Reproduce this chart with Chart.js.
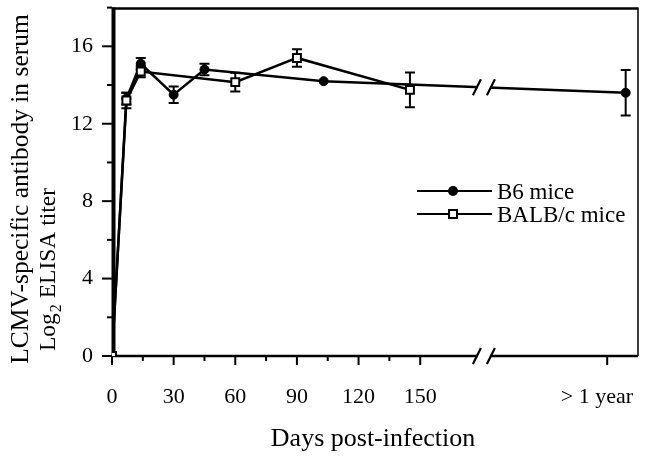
<!DOCTYPE html>
<html><head><meta charset="utf-8">
<script src="https://cdn.jsdelivr.net/npm/chart.js@4.4.0/dist/chart.umd.min.js"></script>
<style>html,body{margin:0;padding:0;background:#fff}#wrap{width:646px;height:458px;position:relative}</style>
</head><body><div id="wrap"><canvas id="c" width="646" height="458"></canvas></div>
<script>
// ---- data ----
const b6Days   = [0, 7, 14, 30, 45, 103, 250];
const b6Titer  = [0, 13.3, 15.1, 13.5, 14.8, 14.2, 13.6];
const b6Err    = [0, 0.3, 0.3, 0.43, 0.3, 0, 1.18];
const balbDays  = [0, 7, 14, 60, 90, 145];
const balbTiter = [0, 13.2, 14.7, 14.15, 15.4, 13.75];
const balbErr   = [0, 0.4, 0.3, 0.48, 0.45, 0.9];
// tick labels (the "> 1 year" label sits a little left of its tick mark in the original)
const xTickValues = [0, 15, 30, 45, 60, 75, 90, 105, 120, 135, 150, 236];
const xTickLabels = ['0', '', '30', '', '60', '', '90', '', '120', '', '150', '> 1 year'];
const xMarkValues = [0, 15, 30, 45, 60, 75, 90, 105, 120, 135, 150, 241];
const xMarkMajor  = [1, 0, 1, 0, 1, 0, 1, 0, 1, 0, 1, 1];
const yTickValues = [0, 2, 4, 6, 8, 10, 12, 14, 16, 18];
const yTickLabels = ['0', '', '4', '', '8', '', '12', '', '16', ''];
const xBreakAt = 181;
const seriesNames = ['B6 mice', 'BALB/c mice'];
const xTitle = 'Days post-infection';
const yTitle1 = 'LCMV-specific antibody in serum';

const FONT = '"Liberation Serif", "Times New Roman", serif';
const toPts = (xs, ys) => xs.map((x, i) => ({x: x, y: ys[i]}));

function drawSquare(ctx, x, y, s) {
  ctx.save(); ctx.fillStyle = '#fff'; ctx.strokeStyle = '#000'; ctx.lineWidth = 2;
  ctx.fillRect(x - s/2, y - s/2, s, s); ctx.strokeRect(x - s/2, y - s/2, s, s); ctx.restore();
}
function drawDot(ctx, x, y, r) {
  ctx.save(); ctx.fillStyle = '#000'; ctx.beginPath(); ctx.arc(x, y, r, 0, Math.PI*2); ctx.fill(); ctx.restore();
}
function drawBreak(ctx, x, y) {
  ctx.save();
  ctx.fillStyle = '#fff';
  ctx.fillRect(x - 6, y - 3, 12, 6);
  ctx.strokeStyle = '#000'; ctx.lineWidth = 2.2; ctx.lineCap = 'butt';
  [-7, 7].forEach(dx => {
    ctx.beginPath(); ctx.moveTo(x + dx - 4, y + 8); ctx.lineTo(x + dx + 4, y - 8); ctx.stroke();
  });
  ctx.restore();
}

const errPlugin = {
  id: 'errbars',
  beforeDatasetsDraw(chart) {
    const {ctx, scales: {x, y}} = chart;
    const sets = [[b6Days, b6Titer, b6Err], [balbDays, balbTiter, balbErr]];
    ctx.save(); ctx.strokeStyle = '#000'; ctx.lineWidth = 2;
    sets.forEach(([xs, ys, es]) => {
      xs.forEach((d, i) => {
        if (!es[i]) return;
        const px = x.getPixelForValue(d);
        const top = y.getPixelForValue(ys[i] + es[i]);
        const bot = y.getPixelForValue(ys[i] - es[i]);
        ctx.beginPath();
        ctx.moveTo(px, top); ctx.lineTo(px, bot);
        ctx.moveTo(px - 5, top); ctx.lineTo(px + 5, top);
        ctx.moveTo(px - 5, bot); ctx.lineTo(px + 5, bot);
        ctx.stroke();
      });
    });
    ctx.restore();
  }
};

const framePlugin = {
  id: 'frame',
  beforeDatasetsDraw(chart) {
    const {ctx, chartArea: a, scales: {x, y}} = chart;
    ctx.save(); ctx.strokeStyle = '#000';
    ctx.lineWidth = 2.5; ctx.beginPath(); ctx.moveTo(a.left, a.top + 1); ctx.lineTo(a.right, a.top + 1); ctx.stroke();
    ctx.lineWidth = 1.5; ctx.beginPath(); ctx.moveTo(a.right, a.top); ctx.lineTo(a.right, a.bottom); ctx.stroke();
    ctx.lineWidth = 2.5; ctx.beginPath(); ctx.moveTo(a.left, a.bottom); ctx.lineTo(a.right, a.bottom); ctx.stroke();
    ctx.lineWidth = 4; ctx.beginPath(); ctx.moveTo(a.left + 1.5, a.top); ctx.lineTo(a.left + 1.5, a.bottom + 1); ctx.stroke();
    ctx.lineWidth = 2;
    xMarkValues.forEach((v, i) => {
      const px = x.getPixelForValue(v); const len = xMarkMajor[i] ? 9 : 5;
      ctx.beginPath(); ctx.moveTo(px, a.bottom); ctx.lineTo(px, a.bottom + len); ctx.stroke();
    });
    yTickValues.forEach((v, i) => {
      const py = y.getPixelForValue(v); const len = yTickLabels[i] ? 10 : 5;
      ctx.beginPath(); ctx.moveTo(a.left, py); ctx.lineTo(a.left - len, py); ctx.stroke();
    });
    drawBreak(ctx, x.getPixelForValue(xBreakAt), a.bottom);
    ctx.restore();
  },
  afterDatasetsDraw(chart) {
    const {ctx, scales: {x}} = chart;
    const meta = chart.getDatasetMeta(1);
    const n = meta.data.length;
    const p0 = meta.data[n - 2], p1 = meta.data[n - 1];
    const bx = x.getPixelForValue(xBreakAt);
    const by = p0.y + (p1.y - p0.y) * (bx - p0.x) / (p1.x - p0.x);
    drawBreak(ctx, bx, by);
  },
  afterDraw(chart) {
    const {ctx} = chart;
    ctx.save(); ctx.fillStyle = '#000'; ctx.textBaseline = 'alphabetic';
    const lx0 = 417, lx1 = 492, tx = 497;
    const rows = [191, 214];
    ctx.strokeStyle = '#000'; ctx.lineWidth = 2;
    rows.forEach((ry, i) => {
      ctx.beginPath(); ctx.moveTo(lx0, ry); ctx.lineTo(lx1, ry); ctx.stroke();
      if (i === 0) drawDot(ctx, 453, ry, 5); else drawSquare(ctx, 453, ry, 8);
      ctx.font = '23px ' + FONT; ctx.textAlign = 'left';
      ctx.fillText(seriesNames[i], tx, ry + 8);
    });
    ctx.font = '26px ' + FONT; ctx.textAlign = 'center';
    ctx.fillText(xTitle, 373, 446);
    ctx.save(); ctx.translate(28, 189); ctx.rotate(-Math.PI / 2);
    ctx.font = '25.5px ' + FONT; ctx.textAlign = 'center';
    ctx.fillText(yTitle1, 0, 0);
    ctx.restore();
    ctx.save(); ctx.translate(55, 351); ctx.rotate(-Math.PI / 2);
    ctx.textAlign = 'left';
    ctx.font = '23.5px ' + FONT; ctx.fillText('Log', 0, 0);
    let w = ctx.measureText('Log').width;
    ctx.font = '16px ' + FONT; ctx.fillText('2', w + 1, 6);
    w += ctx.measureText('2').width + 1;
    ctx.font = '23.5px ' + FONT; ctx.fillText(' ELISA titer', w, 0);
    ctx.restore();
    ctx.restore();
  }
};

new Chart(document.getElementById('c'), {
  type: 'scatter',
  data: {
    datasets: [
      { label: seriesNames[1], data: toPts(balbDays, balbTiter), showLine: true, borderColor: '#000', borderWidth: 2.5,
        pointStyle: 'rect', pointRadius: 5.6, pointBorderWidth: 2, pointBackgroundColor: '#fff', pointBorderColor: '#000', order: 0 },
      { label: seriesNames[0], data: toPts(b6Days, b6Titer), showLine: true, borderColor: '#000', borderWidth: 2.5,
        pointStyle: 'circle', pointRadius: 4.5, pointBorderWidth: 1, pointBackgroundColor: '#000', pointBorderColor: '#000', order: 1 }
    ]
  },
  options: {
    responsive: false, animation: false, devicePixelRatio: 1,
    layout: { padding: { top: 7, right: 8, left: 0, bottom: 0 } },
    plugins: { legend: { display: false }, tooltip: { enabled: false } },
    scales: {
      x: {
        type: 'linear', min: 0, max: 256,
        grid: { display: false, drawTicks: false }, border: { display: false },
        afterBuildTicks: s => { s.ticks = xTickValues.map(v => ({value: v})); },
        afterFit: s => { s.height = 102; s.paddingLeft = 0; s.paddingRight = 0; },
        ticks: { autoSkip: false, maxRotation: 0, minRotation: 0, padding: 28, color: '#000',
          font: { family: FONT, size: 22 }, callback: (v, i) => xTickLabels[i] }
      },
      y: {
        min: 0, max: 18,
        grid: { display: false, drawTicks: false }, border: { display: false },
        afterBuildTicks: s => { s.ticks = yTickValues.map(v => ({value: v})); },
        afterFit: s => { s.width = 112; s.paddingTop = 0; s.paddingBottom = 0; },
        ticks: { autoSkip: false, padding: 19, color: '#000',
          font: { family: FONT, size: 22 }, callback: (v, i) => yTickLabels[i] }
      }
    }
  },
  plugins: [errPlugin, framePlugin]
});
</script>
</body></html>
